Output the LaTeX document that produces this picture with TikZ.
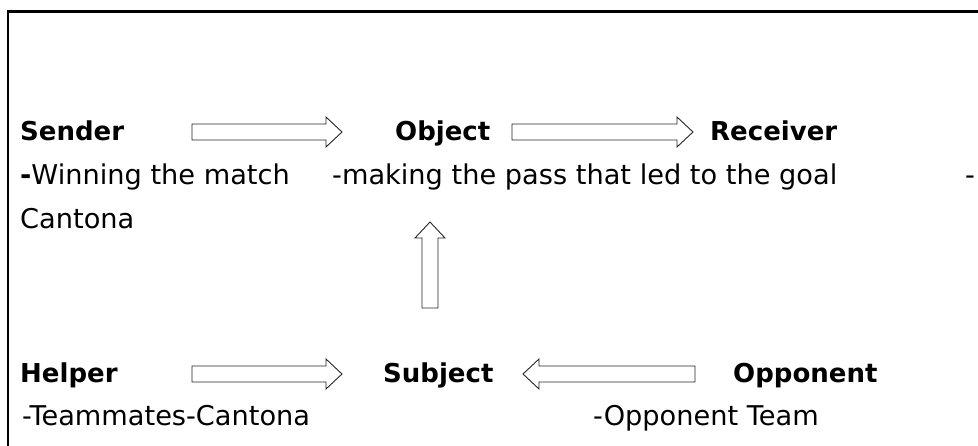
\documentclass[tikz,border=0pt]{standalone}
\usepackage{fontspec}
\setmainfont{DejaVu Sans}
\usetikzlibrary{calc}
\newcommand\drawblk[2]{%
  \coordinate (blkH) at ($(#2)!16pt!(#1)$);
  \draw[blk] ($(#1)!8pt!90:(#2)$) -- ($(blkH)!8pt!90:(#2)$) -- ($(blkH)!15pt!90:(#2)$) -- (#2)
    -- ($(blkH)!15pt!-90:(#2)$) -- ($(blkH)!8pt!-90:(#2)$) -- ($(#1)!8pt!-90:(#2)$) -- cycle;}
\begin{document}
\begin{tikzpicture}[x=1pt,y=-1pt,
  txt/.style={anchor=base west, inner sep=0pt, font=\fontsize{27.2}{30}\selectfont},
  hd/.style={anchor=base west, inner sep=0pt, font=\fontsize{26}{30}\selectfont\bfseries},
  blk/.style={draw=black!85, line width=0.9pt, fill=white, line join=miter},
  frame/.style={line width=2.5pt, line join=miter}]
\useasboundingbox (0,0) rectangle (978,446);
\draw[frame] (8,446) -- (8,11.7) -- (978,11.7);

\node[hd] (sender) at (20,141) {Sender};
\node[hd] (object) at (395,141) {Object};
\node[hd] (receiver) at (710,141) {Receiver};
\node[txt] (win) at (20,185) {\textbf{-}Winning the match};
\node[txt] (pass) at (332,185) {-making the pass that led to the goal};
\node[txt] (dash) at (965,185) {-};
\node[txt] (cantona) at (20,229) {Cantona};
\node[hd] (helper) at (20,383) {Helper};
\node[hd] (subject) at (383,383) {Subject};
\node[hd] (opponent) at (733,383) {Opponent};
\node[txt] (team) at (22,425) {-Teammates-Cantona};
\node[txt] (oppteam) at (593,425) {-Opponent Team};

\coordinate (a1s) at (192,132); \coordinate (a1e) at (342,132);
\coordinate (a2s) at (512,132); \coordinate (a2e) at (693,132);
\coordinate (a3s) at (430,308); \coordinate (a3e) at (430,222);
\coordinate (a4s) at (192,374); \coordinate (a4e) at (342,374);
\coordinate (a5s) at (695,374); \coordinate (a5e) at (523,374);
\drawblk{a1s}{a1e}
\drawblk{a2s}{a2e}
\drawblk{a3s}{a3e}
\drawblk{a4s}{a4e}
\drawblk{a5s}{a5e}
\end{tikzpicture}
\end{document}
